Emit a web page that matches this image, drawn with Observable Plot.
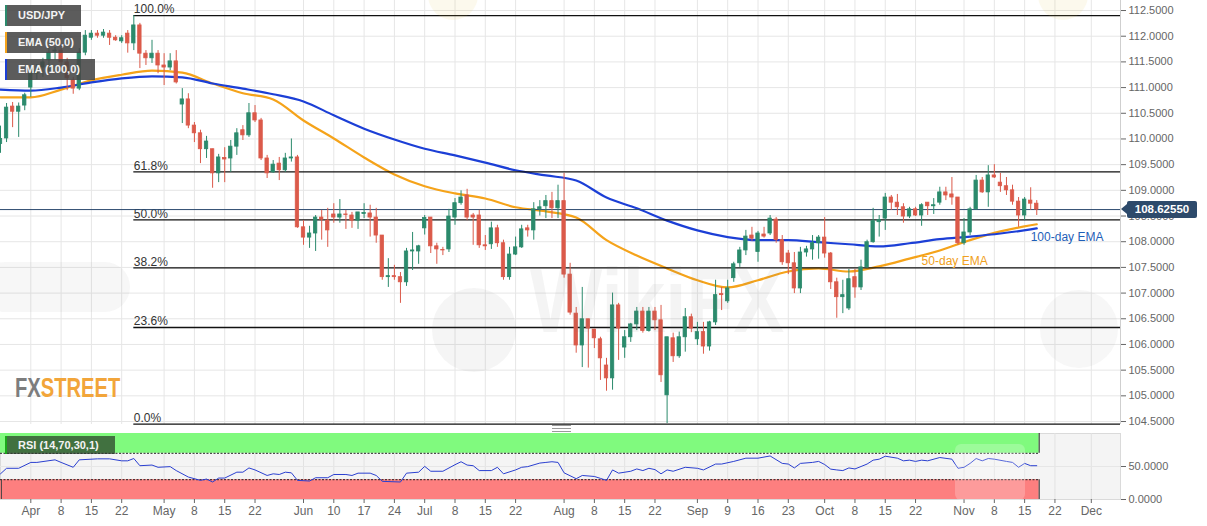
<!DOCTYPE html>
<html>
<head>
<meta charset="utf-8">
<script src="https://cdn.jsdelivr.net/npm/d3@7"></script>
<script src="https://cdn.jsdelivr.net/npm/@observablehq/plot@0.6"></script>
<style>
  body { margin: 0; background: #fff; font-family: "Liberation Sans", Arial, sans-serif; }
  #wrap { position: relative; width: 1207px; height: 526px; overflow: hidden; background: #fff; }
  #wrap svg { position: absolute; left: 0; }
  .leg { position: absolute; left: 5px; height: 21px; background: rgba(70,70,70,0.88); color: #f4f4f4;
         font: bold 11px "Liberation Sans", Arial, sans-serif; line-height: 21px; padding-left: 11px; box-sizing: border-box; }
  .wm { position: absolute; color: rgba(110,110,110,0.08); font-family: "Liberation Sans", Arial, sans-serif; font-weight: bold; white-space: nowrap; pointer-events: none; }
</style>
</head>
<body>
<div id="wrap"></div>
<script>
// ---------------- DATA ----------------
const startDate = "2019-03-25"; // first candle; candles run on consecutive weekdays
const opens = [
 109.90,110.01,110.63,110.53,110.65,111.00,111.27,111.39,111.53,111.70,
 111.72,111.49,111.14,110.98,111.68,111.97,112.05,112.01,112.05,111.97,
 111.90,112.05,111.86,112.21,111.66,111.57,111.66,111.43,111.39,111.51,
 110.67,110.77,110.26,110.11,109.80,109.80,109.33,109.63,109.62,109.85,
 110.17,110.07,110.50,110.36,109.62,109.35,109.52,109.39,109.62,109.64,
 108.28,108.08,108.16,108.47,108.41,108.53,108.47,108.53,108.51,108.41,
 108.54,108.55,108.47,108.12,107.31,107.33,107.31,107.21,107.81,107.81,
 108.26,108.47,107.91,107.84,107.85,108.47,108.75,108.90,108.51,108.51,
 107.93,107.95,108.26,107.97,107.31,107.75,107.89,108.26,108.22,108.63,
 108.69,108.79,108.65,108.79,107.36,106.60,105.98,106.49,106.29,106.10,
 105.59,105.34,106.76,105.94,106.14,106.39,106.64,106.26,106.64,106.47,
 105.01,106.12,105.77,106.14,106.53,106.10,106.24,105.96,106.43,106.98,
 106.84,107.29,107.58,107.83,108.12,107.80,108.14,108.16,108.43,108.03,
 107.77,107.58,107.09,107.79,107.85,107.97,108.08,107.77,107.21,106.92,
 106.70,107.31,107.11,107.50,107.99,108.38,108.45,108.86,108.76,108.67,
 108.49,108.63,108.51,108.76,108.69,108.76,108.96,108.92,108.86,107.97,
 108.18,108.63,109.19,108.96,109.29,109.15,109.08,109.00,108.78,108.51,
 108.80,108.74
];
const highs = [
 110.25,110.69,110.71,110.70,110.89,111.39,111.45,111.57,111.78,111.78,
 111.82,111.57,111.20,111.76,112.11,112.11,112.11,112.13,112.11,112.01,
 112.01,112.11,112.40,112.25,111.72,111.92,111.72,111.66,111.66,111.72,
 110.98,110.88,110.32,110.17,110.05,109.80,109.70,109.83,109.97,110.20,
 110.26,110.69,110.65,110.40,109.68,109.58,109.64,109.72,110.00,109.68,
 108.41,108.30,108.51,108.61,108.65,108.74,108.82,108.61,108.57,108.57,
 108.74,108.71,108.65,108.12,107.67,107.54,107.40,107.87,108.18,107.93,
 108.51,108.47,107.97,107.89,108.63,108.84,108.99,109.02,108.55,108.61,
 108.12,108.38,108.32,108.03,107.89,108.09,108.32,108.32,108.76,108.80,
 108.90,108.96,109.10,109.33,107.58,106.72,107.11,106.49,106.29,106.14,
 105.73,107.00,106.80,106.27,106.41,106.72,106.72,106.72,106.72,106.76,
 106.14,106.22,106.24,106.70,106.59,106.43,106.43,106.45,107.25,107.11,
 107.25,107.60,107.89,108.22,108.28,108.20,108.28,108.51,108.47,108.12,
 107.83,107.79,107.89,107.91,108.12,108.12,108.47,107.79,107.29,107.25,
 107.46,107.46,107.64,108.03,108.65,108.51,108.94,108.90,108.92,108.74,
 108.67,108.67,108.74,108.76,108.84,109.06,109.06,109.25,108.86,108.45,
 108.67,109.29,109.25,109.48,109.50,109.33,109.25,109.10,108.86,108.86,
 109.05,108.80
];
const lows = [
 109.72,109.93,110.22,110.03,110.55,110.81,111.15,111.20,111.30,111.53,
 111.43,110.94,110.87,110.94,111.62,111.92,111.96,111.96,111.82,111.90,
 111.86,111.67,111.72,111.37,111.43,111.47,111.27,111.04,111.33,111.07,
 110.30,110.20,109.93,109.52,109.62,109.04,109.15,109.15,109.35,109.68,
 109.97,110.03,110.32,109.58,109.23,109.33,109.19,109.35,109.55,108.26,
 107.93,107.87,107.81,108.03,107.89,108.36,108.36,108.24,108.26,108.24,
 108.45,108.09,107.97,107.25,107.11,107.25,106.80,107.13,107.44,107.56,
 108.13,107.77,107.56,107.73,107.79,108.32,108.71,108.41,107.93,107.87,
 107.83,107.85,107.89,107.25,107.25,107.73,107.87,108.09,108.03,108.50,
 108.45,108.45,108.45,107.29,106.57,105.83,105.55,105.54,105.92,105.30,
 105.09,105.11,105.69,105.73,106.04,106.27,106.22,106.24,106.27,105.26,
 104.46,105.65,105.73,105.85,106.23,105.98,105.81,105.87,106.37,106.66,
 106.80,107.21,107.50,107.73,108.01,107.60,108.07,108.12,107.97,107.54,
 107.36,106.99,106.99,107.70,107.64,107.66,107.68,107.07,106.51,106.60,
 106.66,106.90,107.05,107.48,107.97,108.09,108.22,108.61,108.51,108.36,
 108.45,108.49,108.30,108.51,108.53,108.71,108.80,108.71,107.93,107.93,
 108.12,108.61,108.94,108.67,109.23,108.96,108.90,108.71,108.28,108.41,
 108.61,108.51
];
const closes = [
 110.00,110.61,110.53,110.63,110.85,111.27,111.33,111.49,111.68,111.72,
 111.49,111.18,110.98,111.68,112.01,112.05,112.01,112.07,111.97,111.92,
 111.96,111.86,112.21,111.66,111.57,111.66,111.43,111.39,111.51,111.10,
 110.77,110.26,110.11,109.80,109.95,109.33,109.64,109.60,109.85,110.11,
 110.07,110.50,110.36,109.62,109.33,109.50,109.39,109.62,109.64,108.28,
 108.08,108.16,108.47,108.43,108.22,108.47,108.53,108.52,108.41,108.57,
 108.56,108.47,108.12,107.31,107.33,107.31,107.21,107.81,107.83,107.91,
 108.46,107.91,107.85,107.83,108.49,108.75,108.86,108.47,108.47,107.93,
 107.91,108.26,107.97,107.31,107.75,107.89,108.24,108.22,108.63,108.67,
 108.79,108.65,108.79,107.36,106.62,105.98,106.49,106.31,106.12,105.73,
 105.34,106.76,106.31,106.14,106.39,106.64,106.26,106.64,106.47,105.40,
 106.14,105.77,106.14,106.53,106.31,106.24,105.96,106.43,106.96,106.96,
 107.09,107.56,107.83,108.10,108.06,108.16,108.10,108.45,108.03,107.60,
 107.58,107.09,107.79,107.85,107.97,108.08,107.77,107.21,106.92,106.96,
 107.27,107.11,107.50,107.99,108.40,108.42,108.86,108.76,108.67,108.49,
 108.63,108.51,108.71,108.69,108.71,108.96,108.90,108.86,107.97,108.18,
 108.63,109.19,108.96,109.29,109.25,109.08,109.00,108.78,108.51,108.82,
 108.74,108.6255
];

const emaDates = [
 "2019-03-25","2019-04-01","2019-04-08","2019-04-15","2019-04-22","2019-04-29","2019-05-06","2019-05-13","2019-05-20","2019-05-27",
 "2019-06-03","2019-06-10","2019-06-17","2019-06-24","2019-07-01","2019-07-08","2019-07-15","2019-07-22","2019-07-29","2019-08-05",
 "2019-08-12","2019-08-19","2019-08-26","2019-09-02","2019-09-09","2019-09-16","2019-09-23","2019-09-30","2019-10-07","2019-10-14",
 "2019-10-21","2019-10-28","2019-11-04","2019-11-11","2019-11-18","2019-11-19"
];
const ema50Values = [
 110.81,110.81,110.96,111.14,111.25,111.33,111.29,111.08,110.89,110.77,
 110.36,110.01,109.64,109.31,109.08,108.94,108.84,108.67,108.59,108.47,
 108.03,107.73,107.48,107.25,107.11,107.25,107.42,107.48,107.42,107.52,
 107.67,107.83,108.03,108.20,108.32,108.34
];
const ema100Values = [
 110.96,110.94,111.00,111.10,111.18,111.22,111.20,111.08,110.98,110.87,
 110.73,110.46,110.20,109.99,109.81,109.68,109.54,109.39,109.29,109.19,
 108.86,108.65,108.41,108.22,108.09,108.03,108.03,107.99,107.95,107.91,
 107.97,108.05,108.10,108.16,108.24,108.26
];

const rsiDates = [
 "2019-03-25","2019-03-26","2019-03-28","2019-04-01","2019-04-02","2019-04-05","2019-04-08","2019-04-10","2019-04-11","2019-04-16",
 "2019-04-18","2019-04-22","2019-04-23","2019-04-24","2019-04-25","2019-04-29","2019-04-30","2019-05-02","2019-05-03","2019-05-07",
 "2019-05-09","2019-05-10","2019-05-13","2019-05-14","2019-05-15","2019-05-17","2019-05-20","2019-05-21","2019-05-22","2019-05-24",
 "2019-05-27","2019-05-28","2019-05-29","2019-05-30","2019-05-31","2019-06-04","2019-06-05","2019-06-07","2019-06-10","2019-06-12",
 "2019-06-13","2019-06-14","2019-06-18","2019-06-19","2019-06-20","2019-06-25","2019-06-26","2019-06-28","2019-07-01","2019-07-02",
 "2019-07-04","2019-07-08","2019-07-09","2019-07-10","2019-07-11","2019-07-12","2019-07-16","2019-07-17","2019-07-18","2019-07-22",
 "2019-07-23","2019-07-24","2019-07-26","2019-07-29","2019-07-30","2019-07-31","2019-08-01","2019-08-05","2019-08-06","2019-08-08",
 "2019-08-09","2019-08-12","2019-08-13","2019-08-14","2019-08-16","2019-08-19","2019-08-20","2019-08-21","2019-08-22","2019-08-23",
 "2019-08-26","2019-08-27","2019-08-29","2019-09-02","2019-09-03","2019-09-05","2019-09-06","2019-09-10","2019-09-12","2019-09-16",
 "2019-09-18","2019-09-20","2019-09-23","2019-09-24","2019-09-25","2019-09-27","2019-09-30","2019-10-01","2019-10-02","2019-10-03",
 "2019-10-04","2019-10-07","2019-10-08","2019-10-09","2019-10-10","2019-10-11","2019-10-14","2019-10-15","2019-10-17","2019-10-18",
 "2019-10-21","2019-10-22","2019-10-23","2019-10-24","2019-10-28","2019-10-30","2019-10-31","2019-11-01","2019-11-04","2019-11-05",
 "2019-11-06","2019-11-07","2019-11-08","2019-11-12","2019-11-13","2019-11-14","2019-11-15","2019-11-18","2019-11-19"
];
const rsiValues = [
 38.9,47.3,47.3,56.2,56.2,60.1,56.2,48.8,60.1,61.6,
 61.6,58.6,58.6,62.1,51.2,52.2,48.8,49.8,43.8,34.0,
 29.0,31.0,26.5,32.5,32.5,41.4,41.4,47.8,44.8,36.4,
 38.9,37.9,41.4,40.4,29.0,28.0,33.0,33.0,37.9,37.9,
 36.4,39.9,39.9,36.4,27.5,26.5,39.9,41.4,50.2,42.8,
 42.8,52.7,57.2,52.2,51.2,43.8,43.8,48.8,38.9,44.8,
 48.8,49.8,55.2,56.2,57.2,56.2,40.4,31.5,36.4,34.9,
 32.0,29.0,44.8,39.9,42.8,46.3,43.8,47.3,45.3,38.9,
 44.8,42.8,48.8,47.3,44.8,53.7,53.7,57.7,62.6,62.6,
 66.0,54.7,53.7,47.8,54.7,56.2,57.7,53.0,46.0,44.8,
 43.8,47.8,46.3,50.0,53.7,59.6,61.1,65.6,62.6,58.6,
 59.6,57.7,59.6,58.6,63.6,61.1,47.3,48.8,54.7,62.1,
 58.6,62.1,61.1,57.7,56.2,48.8,54.7,51.2,51.2
];
const rsiUpper = 70;
const rsiLower = 30;

const fibStartDate = "2019-04-24";
const fibLevels = [112.40, 109.36, 108.425, 107.49, 106.33, 104.45];
const fibLabels = ["100.0%", "61.8%", "50.0%", "38.2%", "23.6%", "0.0%"];

const tickDates = [
 "2019-04-01","2019-04-08","2019-04-15","2019-04-22","2019-05-01","2019-05-08","2019-05-15","2019-05-22",
 "2019-06-03","2019-06-10","2019-06-17","2019-06-24","2019-07-01","2019-07-08","2019-07-15","2019-07-22",
 "2019-08-01","2019-08-08","2019-08-15","2019-08-22","2019-09-02","2019-09-09","2019-09-16","2019-09-23",
 "2019-10-01","2019-10-08","2019-10-15","2019-10-22","2019-11-01","2019-11-08","2019-11-15","2019-11-22","2019-12-02"
];
const tickLabels = [
 "Apr","8","15","22","May","8","15","22","Jun","10","17","24","Jul","8","15","22",
 "Aug","8","15","22","Sep","9","16","23","Oct","8","15","22","Nov","8","15","22","Dec"
];
const priceTicks = [104.5,105,105.5,106,106.5,107,107.5,108,108.5,109,109.5,110,110.5,111,111.5,112,112.5];
const rsiTicks = [0, 50];

const annoLabels = ["100-day EMA", "50-day EMA"];
const annoDates = ["2019-11-18", "2019-10-23"];
const annoValues = [108.09, 107.62];
const annoColors = ["#1f5fb8", "#f0a020"];

// ---------------- HELPERS ----------------
const W = 1207;
const plotRight = 1120;          // right edge of plotting area (px)
const pxPerDay = 6.06;           // px per trading day
const xMax = plotRight / pxPerDay;
const t0 = Date.UTC(2019, 2, 25);
const dayIndex = s => {
  const [y, m, d] = s.split("-").map(Number);
  const days = Math.round((Date.UTC(y, m - 1, d) - t0) / 864e5);
  return Math.floor(days / 7) * 5 + Math.min(days % 7, 5);
};
const start0 = dayIndex(startDate);
const upColor = "#2b8a6c", downColor = "#db5a4a";
const candles = opens.map((o, k) => ({
  i: start0 + k, open: o, high: highs[k], low: lows[k], close: closes[k],
  color: closes[k] >= o ? upColor : downColor
}));
const lastI = candles[candles.length - 1].i;
const lastClose = closes[closes.length - 1];
const ema50 = emaDates.map((d, k) => ({i: dayIndex(d), v: ema50Values[k]}));
const ema100 = emaDates.map((d, k) => ({i: dayIndex(d), v: ema100Values[k]}));
const rsiRows = rsiDates.map((d, k) => ({i: dayIndex(d), v: rsiValues[k]}));
const fibStart = dayIndex(fibStartDate);
const fibRows = fibLevels.map((v, k) => ({v, label: fibLabels[k]}));
const tickIdx = tickDates.map(dayIndex);
const labelOf = new Map(tickIdx.map((v, k) => [v, tickLabels[k]]));
const annoRows = annoLabels.map((t, k) => ({label: t, i: dayIndex(annoDates[k]), v: annoValues[k], color: annoColors[k]}));
const font = "'Liberation Sans', Arial, sans-serif";

// ---------------- MAIN PANEL ----------------
const main = Plot.plot({
  width: W, height: 430,
  marginLeft: 0, marginRight: W - plotRight, marginTop: 0, marginBottom: 6,
  x: {domain: [0, xMax], axis: null, label: null},
  y: {domain: [104.442, 112.695], label: null},
  color: {type: "identity"},
  style: {fontFamily: font, background: "transparent", overflow: "visible"},
  marks: [
    Plot.ruleX(tickIdx, {stroke: "#e6e6e6", strokeOpacity: 1}),
    Plot.ruleY(priceTicks, {stroke: "#e6e6e6", strokeOpacity: 1}),
    Plot.ruleX([xMax], {stroke: "#cfcfcf"}),
    Plot.line(ema50, {x: "i", y: "v", stroke: "#f5a31a", strokeWidth: 2.2, curve: "monotone-x"}),
    Plot.line(ema100, {x: "i", y: "v", stroke: "#1c3fd6", strokeWidth: 2.2, curve: "monotone-x"}),
    Plot.ruleY(fibRows, {y: "v", x1: fibStart, x2: xMax, stroke: "#111", strokeWidth: 1.3}),
    Plot.text(fibRows, {x: fibStart, y: "v", text: "label", textAnchor: "start", dy: -6, fontSize: 12, fill: "#333"}),
    Plot.ruleY([lastClose], {x1: 0, x2: xMax, stroke: "#2c4a6e", strokeWidth: 1}),
    Plot.ruleX(candles, {x: "i", y1: "low", y2: "high", stroke: "color", strokeWidth: 1}),
    Plot.rect(candles, {x1: d => d.i - 0.28, x2: d => d.i + 0.28, y1: "open", y2: "close", fill: "color", stroke: "color", strokeWidth: 0.8}),
    Plot.text(annoRows, {x: "i", y: "v", text: "label", fill: "color", textAnchor: "start", fontSize: 12}),
    Plot.axisY(priceTicks, {anchor: "right", label: null, tickFormat: d3.format(".4f"), fontSize: 11, tickSize: 5, tickPadding: 3, color: "#666"})
  ]
});
main.style.top = "0px";

// ---------------- RSI PANEL ----------------
const rsi = Plot.plot({
  width: W, height: 96,
  marginLeft: 0, marginRight: W - plotRight, marginTop: 3, marginBottom: 27,
  x: {domain: [0, xMax], label: null},
  y: {domain: [0, 100], label: null},
  style: {fontFamily: font, background: "transparent", overflow: "visible"},
  marks: [
    Plot.frame({fill: "#f4f4f4", stroke: "#dadada"}),
    Plot.ruleX(tickIdx, {stroke: "#e2e2e2", strokeOpacity: 1}),
    Plot.ruleY([50], {stroke: "#e6e6e6", strokeOpacity: 1}),
    Plot.rect([rsiUpper], {x1: 0, x2: lastI + 0.4, y1: rsiUpper, y2: 100, fill: "#80fa7e"}),
    Plot.rect([rsiLower], {x1: 0, x2: lastI + 0.4, y1: 0, y2: rsiLower, fill: "#fd7f7f"}),
    Plot.ruleY([rsiUpper, rsiLower], {x1: 0, x2: lastI + 0.4, stroke: "#222", strokeDasharray: "2,1.5"}),
    Plot.ruleX([lastI + 0.4], {y1: rsiUpper, y2: 100, stroke: "#222"}),
    Plot.ruleX([lastI + 0.4], {y1: 0, y2: rsiLower, stroke: "#222"}),
    Plot.ruleX([0.15], {y1: 0, y2: rsiLower, stroke: "#444"}),
    Plot.line(rsiRows, {x: "i", y: "v", stroke: "#2a3fd0", strokeWidth: 1}),
    Plot.axisY(rsiTicks, {anchor: "right", label: null, tickFormat: d3.format(".4f"), fontSize: 11, tickSize: 5, tickPadding: 3, color: "#666"}),
    Plot.axisX(tickIdx, {anchor: "bottom", label: null, tickFormat: d => labelOf.get(d), fontSize: 12, tickSize: 4, tickPadding: 3, color: "#666"})
  ]
});
rsi.style.top = "430px";

const wrap = document.getElementById("wrap");
wrap.appendChild(main);
wrap.appendChild(rsi);

// ---------------- OVERLAYS ----------------
function el(html) { const t = document.createElement("div"); t.innerHTML = html; const n = t.firstElementChild; wrap.appendChild(n); return n; }

// faint watermarks (WikiFX)
el(`<div class="wm" style="left:530px;top:250px;font-size:90px;transform:scaleX(0.85);transform-origin:left top;">WikiFX</div>`);
el(`<div style="position:absolute;left:-20px;top:262px;width:150px;height:50px;border-radius:25px;background:rgba(120,120,120,0.06);"></div>`);
el(`<div style="position:absolute;left:432px;top:288px;width:84px;height:84px;border-radius:50%;background:rgba(120,120,120,0.07);"></div>`);
el(`<div style="position:absolute;left:1040px;top:290px;width:78px;height:78px;border-radius:50%;background:rgba(120,120,120,0.06);"></div>`);
el(`<div style="position:absolute;left:428px;top:-30px;width:50px;height:50px;border-radius:50%;background:rgba(230,200,80,0.10);"></div>`);
el(`<div style="position:absolute;left:1038px;top:-30px;width:50px;height:50px;border-radius:50%;background:rgba(230,200,80,0.10);"></div>`);
el(`<div style="position:absolute;left:955px;top:444px;width:70px;height:56px;border-radius:6px;background:rgba(255,255,255,0.22);"></div>`);

// FXSTREET logo text
el(`<div style="position:absolute;left:15px;top:372px;white-space:nowrap;font:bold 28px 'Liberation Sans',Arial,sans-serif;transform:scaleX(0.72);transform-origin:left top;"><span style="color:#7d7d7d">FX</span><span style="color:#f2a53a">STREET</span></div>`);

// legend boxes
el(`<div class="leg" style="top:5px;width:76px;border-left:2px solid #2b8a6c;">USD/JPY</div>`);
el(`<div class="leg" style="top:32px;width:76px;border-left:2px solid #f5a31a;">EMA (50,0)</div>`);
el(`<div class="leg" style="top:59px;width:90px;border-left:2px solid #1c3fd6;">EMA (100,0)</div>`);
el(`<div class="leg" style="top:436px;width:110px;height:18px;line-height:18px;background:rgba(40,60,40,0.72);border-left:2px solid #1aa81a;">RSI (14,70,30,1)</div>`);

// panel grip
el(`<div style="position:absolute;left:552px;top:425px;width:19px;height:5px;border-top:1px solid #999;border-bottom:1px solid #999;"><div style="margin-top:2px;height:1px;background:#999"></div></div>`);

// current price box
const yPx = main.scale("y").apply(lastClose);
el(`<div style="position:absolute;left:1127px;top:${(yPx - 8.5).toFixed(1)}px;height:17px;width:70px;background:#2d4a6b;color:#fff;font:bold 11.5px ${font};line-height:17px;text-align:center;border-radius:2px;">${d3.format(".5f")(lastClose)}</div>`);
el(`<div style="position:absolute;left:1121px;top:${(yPx - 5).toFixed(1)}px;width:0;height:0;border-top:5px solid transparent;border-bottom:5px solid transparent;border-right:6px solid #2d4a6b;"></div>`);
</script>
</body>
</html>
